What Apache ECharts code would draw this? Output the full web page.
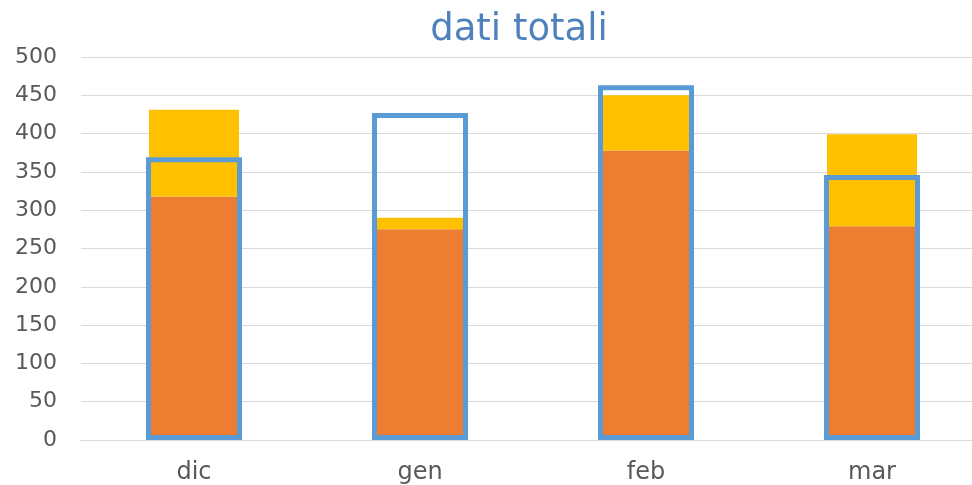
<!DOCTYPE html>
<html>
<head>
<meta charset="utf-8">
<script src="https://cdn.jsdelivr.net/npm/echarts@6/dist/echarts.min.js"></script>
<style>html,body{margin:0;padding:0;background:#fff}#c{width:972px;height:485px}</style>
</head>
<body>
<div id="c"></div>
<script>
var categories = ['dic', 'gen', 'feb', 'mar'];
var baseValues = [318, 275, 378, 279];
var extraValues = [113, 15, 72, 120];
var totalValues = [369, 427, 463, 346];
var yTicks = { min: 0, max: 500, interval: 50 };

var chart = echarts.init(document.getElementById('c'));
chart.setOption({
  animation: false,
  title: {
    text: 'dati totali',
    left: 514, top: 7, textAlign: 'center',
    textStyle: { color: '#4F81BD', fontSize: 37, fontWeight: 'normal', fontFamily: 'DejaVu Sans' }
  },
  grid: { left: 81, width: 904, top: 57, bottom: 45, outerBoundsMode: 'none', containLabel: false },
  xAxis: [{
    type: 'category', data: categories,
    axisLine: { lineStyle: { color: '#d9d9d9', width: 1 } },
    axisTick: { show: false },
    axisLabel: { color: '#595959', fontSize: 24, fontFamily: 'DejaVu Sans', margin: 21 }
  }, {
    type: 'category', data: categories, show: false
  }],
  yAxis: {
    type: 'value', min: yTicks.min, max: yTicks.max, interval: yTicks.interval,
    axisLine: { show: false }, axisTick: { show: false },
    splitLine: { lineStyle: { color: '#d9d9d9', width: 1 } },
    axisLabel: { color: '#595959', fontSize: 22, fontFamily: 'DejaVu Sans', margin: 24 }
  },
  series: [
    { type: 'bar', stack: 's', data: baseValues, barWidth: 90, itemStyle: { color: '#ED7D31' } },
    { type: 'bar', stack: 's', data: extraValues, barWidth: 90, itemStyle: { color: '#FFC000' } },
    { type: 'bar', xAxisIndex: 1, data: totalValues, barWidth: 96, z: 5,
      itemStyle: { color: 'rgba(0,0,0,0)', borderColor: '#5B9BD5', borderWidth: 5 } }
  ]
});
</script>
</body>
</html>
